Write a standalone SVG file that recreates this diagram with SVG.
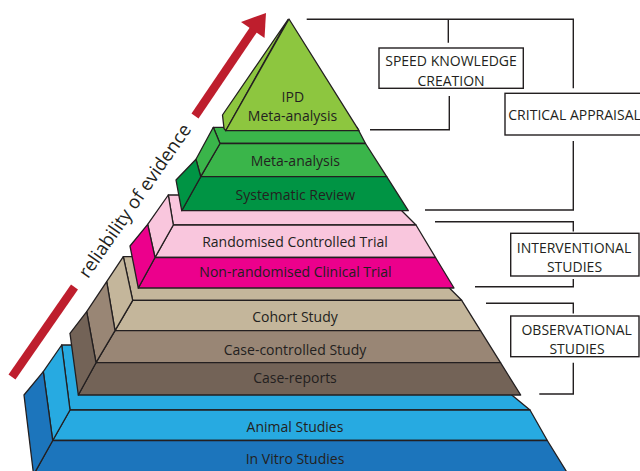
<svg xmlns="http://www.w3.org/2000/svg" width="640" height="471" viewBox="0 0 640 471">
<style>
.s{stroke:#231f20;stroke-width:1.3;stroke-linejoin:round}
.lbl{font-family:"Open Sans","Noto Sans","DejaVu Sans",sans-serif;font-size:14px;fill:#231f20;text-anchor:middle}
.con{fill:none;stroke:#231f20;stroke-width:1.4}
.box{fill:#fff;stroke:#231f20;stroke-width:1.4}
.g0{fill:#8dc63f}.g1{fill:#3ab54a}.g2{fill:#009444}
.p1{fill:#f9c6dd}.p2{fill:#ec008c}
.t1{fill:#c4b69b}.t2{fill:#998675}.t3{fill:#736357}
.b1{fill:#27aae1}.b2{fill:#1c75bc}
</style>
<rect width="640" height="471" fill="#fff"/>
<g id="tier-blue">
<polygon class="s b1" points="61.7,345 451,345 530,410 70,410"/>
<polygon class="s b1" points="70,410 530,410 547.3,440.5 52.7,440.5"/>
<polygon class="s b2" points="52.7,440.5 547.3,440.5 568,474 34,474"/>
<polygon class="s b1" points="61.7,345 43.3,371.7 52.7,440.5 70,410"/>
<polygon class="s b2" points="43.3,371.7 24,395 33.5,474 34,474 52.7,440.5"/>
<text class="lbl" x="295" y="431.7">Animal Studies</text>
<text class="lbl" x="295" y="464.3">In Vitro Studies</text>
</g>
<g id="tier-tan">
<polygon class="s t1" points="123.3,256.7 418,256.7 461.7,300.3 132.7,300.3"/>
<polygon class="s t1" points="132.7,300.3 461.7,300.3 480.5,330.7 115,330.7"/>
<polygon class="s t2" points="115,330.7 480.5,330.7 500.5,362.7 96,362.7"/>
<polygon class="s t3" points="96,362.7 500.5,362.7 520.7,395 78.3,395"/>
<polygon class="s t1" points="123.3,256.7 106.7,281.7 115,330.7 132.7,300.3"/>
<polygon class="s t2" points="106.7,281.7 86.7,311.7 96,362.7 115,330.7"/>
<polygon class="s t3" points="86.7,311.7 70,333.3 78.3,395 96,362.7"/>
<text class="lbl" x="295" y="321.7">Cohort Study</text>
<text class="lbl" x="295" y="355">Case-controlled Study</text>
<text class="lbl" x="295" y="382.7">Case-reports</text>
</g>
<g id="tier-pink">
<polygon class="s p1" points="168.3,195 386,195 416,225 173.3,225"/>
<polygon class="s p1" points="173.3,225 416,225 435.5,257.5 155,257.5"/>
<polygon class="s p2" points="155,257.5 435.5,257.5 454,288 138.3,288"/>
<polygon class="s p1" points="168.3,195 147.7,224.3 155,257.5 173.3,225"/>
<polygon class="s p2" points="147.7,224.3 130,246 138.3,288 155,257.5"/>
<text class="lbl" x="295" y="246.7">Randomised Controlled Trial</text>
<text class="lbl" x="295.5" y="276.7">Non-randomised Clinical Trial</text>
</g>
<g id="tier-green">
<polygon class="s g1" points="213.3,127.3 357,127.3 365.5,143.5 220,143.5"/>
<polygon class="s g1" points="220,143.5 365.5,143.5 386.7,176.7 200.7,176.7"/>
<polygon class="s g2" points="200.7,176.7 386.7,176.7 408.3,210.7 181.7,210.7"/>
<polygon class="s g1" points="213.3,127.3 196,159.3 200.7,176.7 220,143.5"/>
<polygon class="s g2" points="196,159.3 176,180 181.7,210.7 200.7,176.7"/>
<text class="lbl" x="295.3" y="165.7">Meta-analysis</text>
<text class="lbl" x="295.3" y="200">Systematic Review</text>
</g>
<g id="tier-ipd">
<polygon class="s g0" points="288,19.5 222.5,115 224,128.5 225.7,130.7"/>
<polygon class="s g0" points="289,19 225.7,130.7 359,130.7"/>
<text class="lbl" x="292.8" y="101.7">IPD</text>
<text class="lbl" x="292.5" y="120.5">Meta-analysis</text>
</g>
<g id="arrow">
<line x1="12" y1="377" x2="74.5" y2="287" stroke="#be1e2d" stroke-width="8.5"/>
<line x1="195" y1="116" x2="254" y2="29" stroke="#be1e2d" stroke-width="8.5"/>
<polygon points="266,13 241,22 264.5,38" fill="#be1e2d"/>
<text transform="translate(135,201) rotate(-55.2)" x="0" y="6" style="font-family:'Open Sans','Noto Sans',sans-serif;font-size:18.5px;fill:#231f20;text-anchor:middle">reliability of evidence</text>
</g>
<g id="connectors">
<path class="con" d="M306.7,19.3 H573.3 V88.3"/>
<path class="con" d="M448.3,19.3 V42.7"/>
<path class="con" d="M449.3,96 V129.7 H370"/>
<path class="con" d="M573.3,141 V210 H425"/>
<path class="con" d="M435,221.7 H573.3 V231.5"/>
<path class="con" d="M573.3,279 V286.7 H475"/>
<path class="con" d="M486,303.3 H573.3 V313.5"/>
<path class="con" d="M573.3,362.7 V394 H539.3"/>
</g>
<g id="box-speed">
<rect class="box" x="379" y="48" width="144.3" height="40.3"/>
<text class="lbl" x="451" y="65.7">SPEED KNOWLEDGE</text>
<text class="lbl" x="451" y="85.5">CREATION</text>
</g>
<g id="box-critical">
<rect class="box" x="505" y="93.3" width="145" height="41.7"/>
<text class="lbl" x="508.3" y="120" style="text-anchor:start">CRITICAL APPRAISAL</text>
</g>
<g id="box-interventional">
<rect class="box" x="510.7" y="233.3" width="128.3" height="42.7"/>
<text class="lbl" x="574" y="253.3">INTERVENTIONAL</text>
<text class="lbl" x="574.5" y="272.3">STUDIES</text>
</g>
<g id="box-observational">
<rect class="box" x="510.7" y="316" width="128.3" height="40.7"/>
<text class="lbl" x="576.7" y="335">OBSERVATIONAL</text>
<text class="lbl" x="577" y="354.3">STUDIES</text>
</g>
</svg>
